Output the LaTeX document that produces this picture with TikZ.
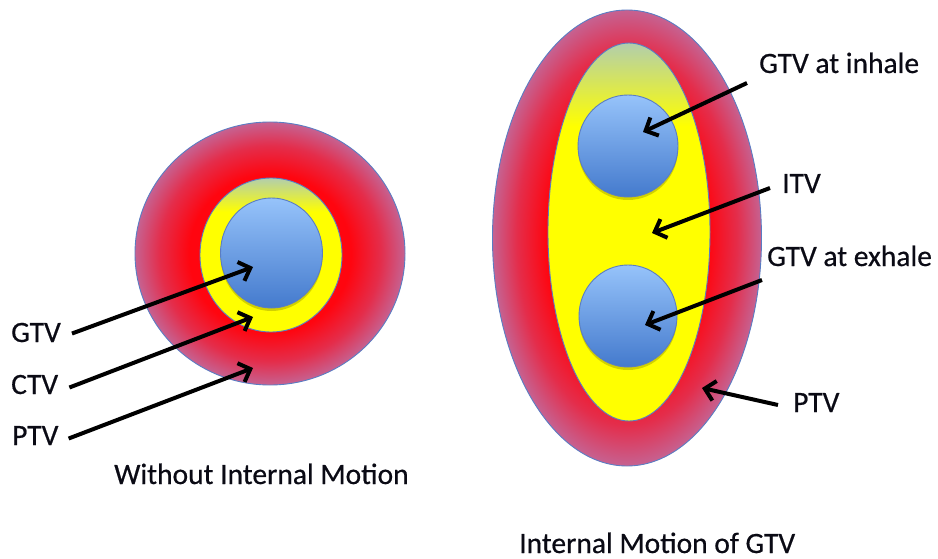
\documentclass[tikz,border=0pt]{standalone}
\usepackage{fontspec}
\setmainfont{Carlito}
\newfontfamily\lblfont[FakeBold=0.5]{Carlito}
\usetikzlibrary{arrows.meta,calc}
\definecolor{ptvred}{RGB}{255,5,15}
\definecolor{ptvmid}{RGB}{228,45,75}
\definecolor{ptvedge}{RGB}{198,98,145}
\definecolor{ctvyel}{RGB}{255,255,0}
\definecolor{ctvtop}{RGB}{178,206,172}
\definecolor{gtvtop}{RGB}{150,195,250}
\definecolor{gtvbot}{RGB}{68,122,205}
\definecolor{rimblue}{RGB}{90,125,195}
\definecolor{labeltext}{RGB}{10,10,20}
\pgfdeclareradialshading{ptvshade}{\pgfpoint{0bp}{0bp}}{color(0bp)=(ptvred); color(15bp)=(ptvred); color(20.5bp)=(ptvmid); color(25bp)=(ptvedge); color(50bp)=(ptvedge)}
\pgfdeclareverticalshading{ctvshade}{100bp}{color(0bp)=(ctvyel); color(64bp)=(ctvyel); color(75bp)=(ctvtop); color(100bp)=(ctvtop)}
\pgfdeclareverticalshading{gtvshade}{100bp}{color(0bp)=(gtvbot); color(25bp)=(gtvbot); color(75bp)=(gtvtop); color(100bp)=(gtvtop)}
\begin{document}
\begin{tikzpicture}[x=1pt,y=-1pt,
  lbl/.style={font=\lblfont\fontsize{29.5}{34}\selectfont, inner sep=0pt, anchor=base west, text=labeltext},
  arr/.style={line width=4pt, draw=black, -{Straight Barb[length=10pt,width=20pt,line width=4pt]}},
  rim/.style={draw=rimblue, line width=0.9pt},
  ptv/.style={rim, shading=ptvshade},
  ctv/.style={rim, shading=ctvshade},
  gtv/.style={rim, shading=gtvshade},
  shad/.style={fill=black, opacity=0.18}]
\useasboundingbox (0,0) rectangle (938,559);

% ---- left: without internal motion
\path[ptv] (270,253.5) ellipse [x radius=135, y radius=131.5];
\path[ctv] (271,255) ellipse [x radius=71, y radius=77];
\path[shad] (271.5,256) ellipse [x radius=51, y radius=55];
\path[gtv] (271.5,253) ellipse [x radius=51, y radius=55];

% ---- right: internal motion of GTV
\path[ptv] (627,238) ellipse [x radius=134.5, y radius=228];
\path[ctv] (629,232) ellipse [x radius=81, y radius=189];
\path[shad] (628,149) ellipse [x radius=50, y radius=51];
\path[gtv] (628,146) ellipse [x radius=50, y radius=51];
\path[shad] (628,319) ellipse [x radius=49, y radius=51];
\path[gtv] (628,316) ellipse [x radius=49, y radius=51];

% ---- labels
\node[lbl] (gtvL) at (11,342) {GTV};
\node[lbl] (ctvL) at (11,394) {CTV};
\node[lbl] (ptvL) at (12,445) {PTV};
\node[lbl] (capL) at (114,484) {Without Internal Motion};
\node[lbl] (capR) at (519,553) {Internal Motion of GTV};
\node[lbl] (inhL) at (759,73) {GTV at inhale};
\node[lbl] (itvL) at (782,193) {ITV};
\node[lbl] (exhL) at (767,266) {GTV at exhale};
\node[lbl] (ptvR) at (793,412) {PTV};

% ---- arrow ends
\coordinate (gtvT) at (253,267);
\coordinate (ctvT) at (253,317);
\coordinate (ptvT) at (253,368);
\coordinate (inhS) at (747,83);
\coordinate (inhT) at (643,132);
\coordinate (itvS) at (770,188);
\coordinate (itvT) at (652,233);
\coordinate (exhS) at (762,280);
\coordinate (exhT) at (645,325);
\coordinate (ptvS) at (778,405);
\coordinate (ptvRT) at (702,388);

% ---- arrows
\draw[arr] ([xshift=11pt,yshift=-1pt]gtvL.east) -- (gtvT);
\draw[arr] ([xshift=11pt,yshift=-3pt]ctvL.east) -- (ctvT);
\draw[arr] ([xshift=10pt,yshift=-3pt]ptvL.east) -- (ptvT);
\draw[arr] (inhS) -- (inhT);
\draw[arr] (itvS) -- (itvT);
\draw[arr] (exhS) -- (exhT);
\draw[arr] (ptvS) -- (ptvRT);
\end{tikzpicture}
\end{document}
